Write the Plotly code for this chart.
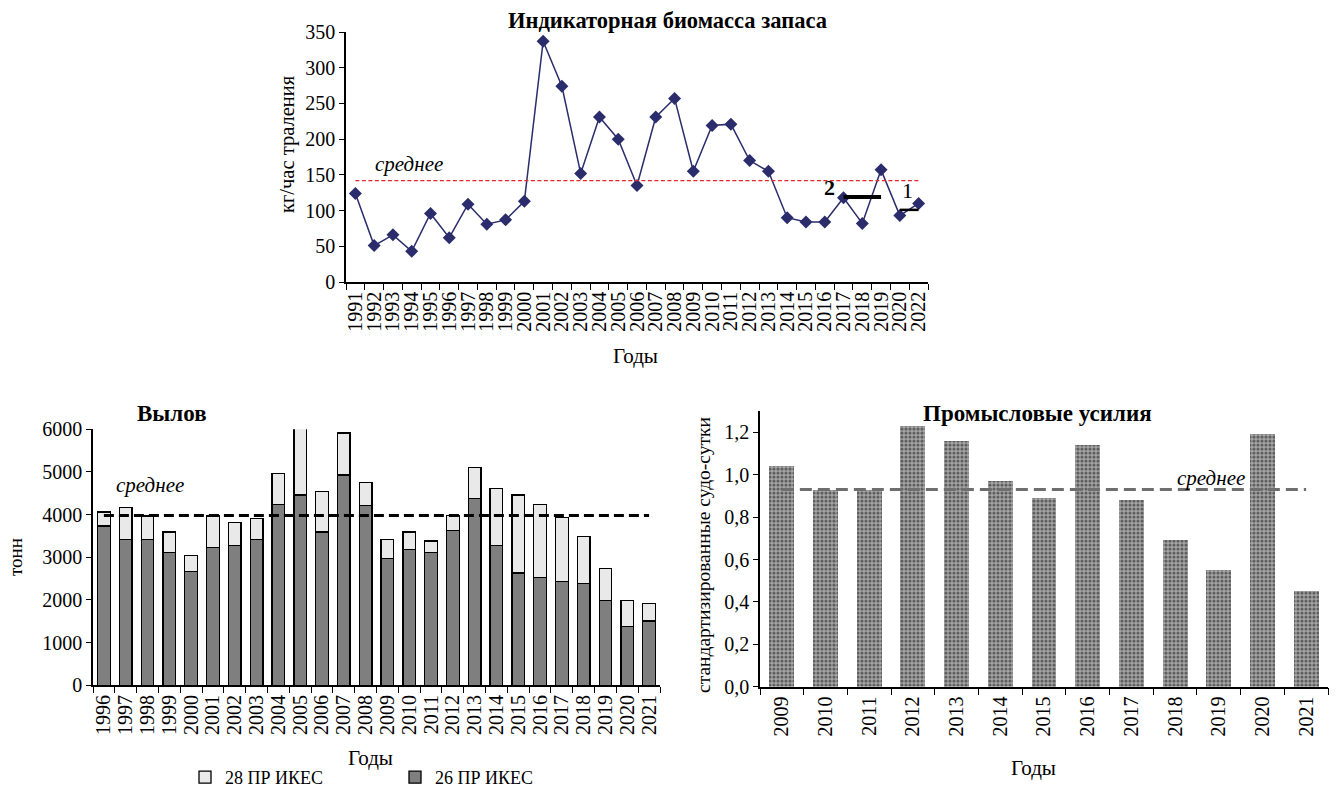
import plotly.graph_objects as go

W, H = 1340, 796
def PX(x): return x / W
def PY(y): return 1 - y / H

FONT = "Liberation Serif"

# ---- Top chart: indicator biomass ----
bio_years = [str(y) for y in range(1991, 2021)] + ["2022"]
bio_values = [124, 51, 66, 43, 96, 62, 109, 81, 87, 113, 337, 274, 152, 231, 200, 135,
              231, 257, 155, 219, 221, 170, 155, 90, 84, 84, 118, 82, 157, 93, 110]
bio_mean = 142
seg2_years = ["2017", "2019"]
seg2_values = [119, 119]
seg1_years = ["2020", "2022"]
seg1_values = [101, 101]

# ---- Bottom-left: catch ----
catch_years = [str(y) for y in range(1996, 2022)]
catch_26 = [3730, 3410, 3410, 3120, 2660, 3230, 3270, 3410, 4240, 4460, 3590, 4930, 4210,
            2980, 3190, 3120, 3630, 4380, 3270, 2630, 2520, 2440, 2380, 1980, 1370, 1510]
catch_28 = [330, 760, 560, 470, 390, 740, 540, 500, 730, 1690, 950, 980, 540,
            430, 400, 260, 350, 730, 1340, 1830, 1720, 1490, 1100, 750, 610, 400]
catch_mean = 3980

# ---- Bottom-right: fishing effort ----
eff_years = [str(y) for y in range(2009, 2022)]
eff_values = [1.04, 0.93, 0.93, 1.23, 1.16, 0.97, 0.89, 1.14, 0.88, 0.69, 0.55, 1.19, 0.45]
eff_mean = 0.93
eff_ticks = [0, 0.2, 0.4, 0.6, 0.8, 1.0, 1.2]
eff_ticktext = ["0,0", "0,2", "0,4", "0,6", "0,8", "1,0", "1,2"]

fig = go.Figure()

# top
fig.add_trace(go.Scatter(x=bio_years, y=bio_values, mode="lines+markers",
                         line=dict(color="#2a2c6c", width=1.5),
                         marker=dict(symbol="diamond", size=10, color="#2a2c6c"),
                         xaxis="x", yaxis="y", showlegend=False))
fig.add_trace(go.Scatter(x=[bio_years[0], bio_years[-1]], y=[bio_mean, bio_mean], mode="lines",
                         line=dict(color="#e8262a", width=1.3, dash="4px,2.5px"),
                         xaxis="x", yaxis="y", showlegend=False))
fig.add_trace(go.Scatter(x=seg2_years, y=seg2_values, mode="lines",
                         line=dict(color="black", width=4), xaxis="x", yaxis="y", showlegend=False))
fig.add_trace(go.Scatter(x=seg1_years, y=seg1_values, mode="lines",
                         line=dict(color="black", width=2.5), xaxis="x", yaxis="y", showlegend=False))

# bottom-left
fig.add_trace(go.Bar(x=catch_years, y=catch_26, name="26 ПР ИКЕС",
                     marker=dict(color="#7f7f7f", line=dict(color="black", width=1.3)),
                     width=0.58, xaxis="x2", yaxis="y2"))
fig.add_trace(go.Bar(x=catch_years, y=catch_28, name="28 ПР ИКЕС",
                     marker=dict(color="#e9e9e9", line=dict(color="black", width=1.3)),
                     width=0.58, xaxis="x2", yaxis="y2"))
fig.add_trace(go.Scatter(x=[catch_years[0], catch_years[-1]], y=[catch_mean, catch_mean], mode="lines",
                         line=dict(color="black", width=3, dash="10px,5px"),
                         xaxis="x2", yaxis="y2", showlegend=False))

# bottom-right
fig.add_trace(go.Bar(x=eff_years, y=eff_values, showlegend=False, width=0.57,
                     marker=dict(color="#a6a6a6", line=dict(width=0),
                                 pattern=dict(shape=".", fgcolor="#111111", bgcolor="#a6a6a6",
                                              size=4, solidity=0.5, fillmode="overlay")),
                     xaxis="x3", yaxis="y3"))
fig.add_trace(go.Scatter(x=[eff_years[0], eff_years[-1]], y=[eff_mean, eff_mean], mode="lines",
                         line=dict(color="#6e6e6e", width=3, dash="12px,6px"),
                         xaxis="x3", yaxis="y3", showlegend=False))

axis_common = dict(showline=True, linecolor="black", linewidth=1.5, ticks="outside",
                   tickcolor="black", ticklen=5, tickwidth=1.3, showgrid=False, zeroline=False,
                   automargin=False, tickfont=dict(family=FONT, size=20, color="black"))

xcat = dict(axis_common, type="category", tickson="boundaries", tickangle=-90, ticklen=6,
            categoryorder="array")

fig.update_layout(
    template="none",
    width=W, height=H, margin=dict(l=0, r=0, t=0, b=0, pad=0),
    plot_bgcolor="white", paper_bgcolor="white",
    barmode="stack",
    font=dict(family=FONT, color="black"),
    xaxis=dict(xcat, domain=[PX(346), PX(928)], anchor="y", range=[-0.5, 30.5],
               categoryarray=bio_years, tickvals=bio_years,
               tickfont=dict(family=FONT, size=20, color="black")),
    yaxis=dict(axis_common, domain=[PY(282), PY(32)], anchor="x", range=[0, 350],
               tickvals=[0, 50, 100, 150, 200, 250, 300, 350]),
    xaxis2=dict(xcat, domain=[PX(93), PX(660)], anchor="y2", range=[-0.5, 25.5],
                categoryarray=catch_years, tickvals=catch_years,
                tickfont=dict(family=FONT, size=20, color="black")),
    yaxis2=dict(axis_common, domain=[PY(685.3), PY(429.3)], anchor="x2", range=[0, 6000],
                tickvals=[0, 1000, 2000, 3000, 4000, 5000, 6000]),
    xaxis3=dict(xcat, domain=[PX(760), PX(1328)], anchor="y3", range=[-0.5, 12.5],
                categoryarray=eff_years, tickvals=eff_years,
                tickfont=dict(family=FONT, size=20, color="black"), ticklen=7),
    yaxis3=dict(axis_common, domain=[PY(686.7), PY(411.1)], anchor="x3", range=[0, 1.3],
                tickvals=eff_ticks, ticktext=eff_ticktext,
                tickfont=dict(family=FONT, size=20, color="black")),
    legend=dict(orientation="h", x=PX(185), y=0.0, xanchor="left", yanchor="bottom",
                traceorder="reversed", entrywidth=165, entrywidthmode="pixels",
                font=dict(family=FONT, size=18, color="black"), bgcolor="rgba(0,0,0,0)"),
)

def ann(text, x, y, size=18, bold=False, italic=False, angle=0, xanchor="center"):
    t = text
    if bold:
        t = "<b>" + t + "</b>"
    if italic:
        t = "<i>" + t + "</i>"
    fig.add_annotation(text=t, x=PX(x), y=PY(y), xref="paper", yref="paper", showarrow=False,
                       xanchor=xanchor, yanchor="middle", textangle=angle,
                       font=dict(family=FONT, size=size, color="black"))

ann("Индикаторная биомасса запаса", 667, 20, size=22.5, bold=True)
ann("кг/час траления", 287, 144, size=20.5, angle=-90)
ann("Годы", 635, 356, size=21)
ann("среднее", 409, 164, size=21, italic=True)
ann("2", 829, 187, size=22, bold=True)
ann("1", 907, 191, size=22)

ann("Вылов", 172, 413, size=23, bold=True)
ann("тонн", 15, 557, size=19, angle=-90)
ann("Годы", 370, 758, size=21)
ann("среднее", 150, 485, size=21, italic=True)

ann("Промысловые усилия", 1037, 413, size=23, bold=True)
ann("стандартизированные судо-сутки", 703, 555, size=19.5, angle=-90)
ann("Годы", 1033, 768, size=21)
ann("среднее", 1211, 478, size=21, italic=True)

fig.write_html("out.html", config={"displayModeBar": False},
               post_script="document.body.style.margin='0';document.body.style.overflow='hidden';")
